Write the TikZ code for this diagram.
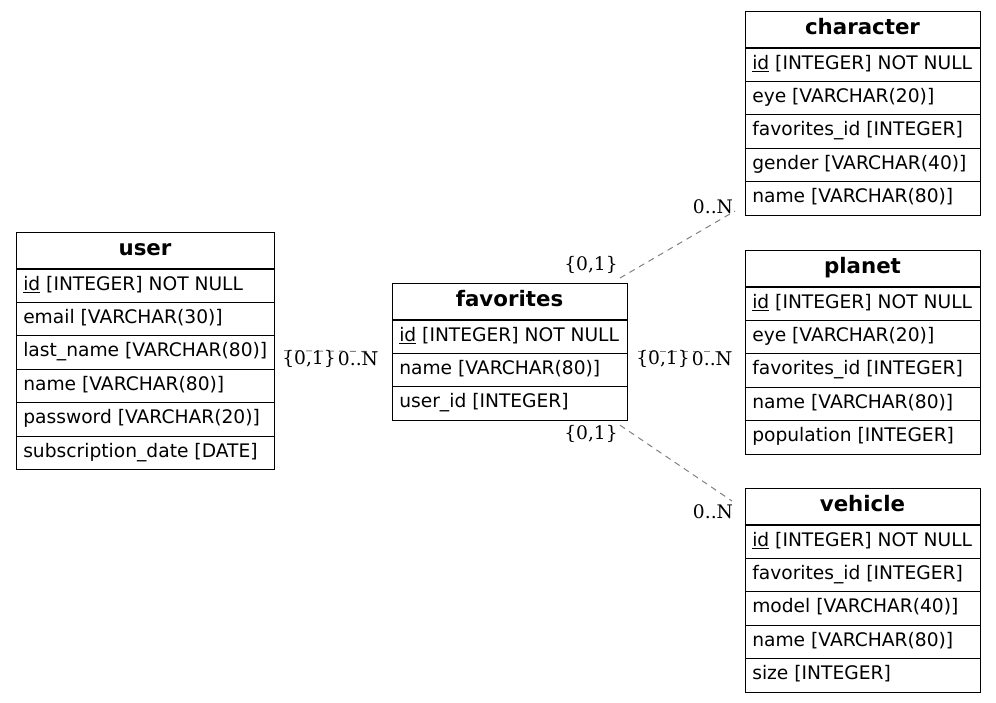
\documentclass[tikz,border=0pt]{standalone}
\usepackage{fontspec}
\setmainfont{DejaVu Sans}
\newfontfamily\cardfont{DejaVu Serif}
\usetikzlibrary{calc}

\tikzset{
  entframe/.style={draw=black, line width=0.75pt, inner sep=0pt, outer sep=0pt},
  enthead/.style={font=\fontsize{16}{18}\selectfont\bfseries, inner sep=0pt, anchor=base},
  entrow/.style={font=\fontsize{14}{16}\selectfont, inner sep=0pt, anchor=base west},
  rowrule/.style={draw=black, line width=0.75pt},
  headrule/.style={draw=black, line width=1.1pt},
  reln/.style={draw=gray, line width=0.75pt, dash pattern=on 4.5pt off 3.75pt},
  card/.style={font=\cardfont\fontsize{14}{16}\selectfont, inner sep=0pt, anchor=center}
}

% primary key column name
\newcommand{\pkey}[1]{\underline{#1}}

% entity table: #1 name, #2 left, #3 top, #4 width, #5 number of rows, #6 title, #7 rows
\newcommand{\erentity}[7]{%
  \node[entframe, anchor=north west, minimum width=#4*0.75pt,
        minimum height={(37+33.4*#5)*0.75pt}] (#1) at (#2,#3) {};
  \node[enthead] (#1-head) at ($(#1.north west)+(#4/2,23)$) {#6};
  \draw[headrule] ($(#1.north west)+(0,37)$) -- ++(#4,0);
  \foreach \txt [count=\i] in {#7} {
    \node[entrow] (#1-r\i) at ($(#1.north west)+(7,24.6+33.4*\i)$) {\txt};
    \ifnum\i<#5
      \draw[rowrule] ($(#1.north west)+(0,37+33.4*\i)$) -- ++(#4,0);
    \fi
  }%
}

\begin{document}
\begin{tikzpicture}[x=0.75pt, y=-0.75pt]
\useasboundingbox (0,0) rectangle (996,703);

\erentity{user}{16}{232}{258}{6}{user}{%
  {\pkey{id} [INTEGER] NOT NULL},
  {email [VARCHAR(30)]},
  {last\_name [VARCHAR(80)]},
  {name [VARCHAR(80)]},
  {password [VARCHAR(20)]},
  {subscription\_date [DATE]}}

\erentity{fav}{392}{283}{235}{3}{favorites}{%
  {\pkey{id} [INTEGER] NOT NULL},
  {name [VARCHAR(80)]},
  {user\_id [INTEGER]}}

\erentity{character}{745}{11}{235}{5}{character}{%
  {\pkey{id} [INTEGER] NOT NULL},
  {eye [VARCHAR(20)]},
  {favorites\_id [INTEGER]},
  {gender [VARCHAR(40)]},
  {name [VARCHAR(80)]}}

\erentity{planet}{745}{250}{235}{5}{planet}{%
  {\pkey{id} [INTEGER] NOT NULL},
  {eye [VARCHAR(20)]},
  {favorites\_id [INTEGER]},
  {name [VARCHAR(80)]},
  {population [INTEGER]}}

\erentity{vehicle}{745}{488}{235}{5}{vehicle}{%
  {\pkey{id} [INTEGER] NOT NULL},
  {favorites\_id [INTEGER]},
  {model [VARCHAR(40)]},
  {name [VARCHAR(80)]},
  {size [INTEGER]}}

% relationships
\draw[reln] ($(user.east)+(10,0)$) -- ($(fav.west)+(-10,0)$);
\draw[reln] ($(fav.east)+(11,0)$) -- ($(planet.west |- fav.east)+(-10,0)$);
\draw[reln] ($(fav.north east)+(-7,-5)$) -- ($(character.south west)+(-10,-4)$);
\draw[reln] ($(fav.south east)+(-7,5)$) -- ($(vehicle.north west)+(-13,13)$);

% cardinalities
\node[card] (uf-a) at (309,359) {\{0,1\}};
\node[card] (uf-b) at (358,359) {0..N};
\node[card] (fp-a) at (663,359) {\{0,1\}};
\node[card] (fp-b) at (712,359) {0..N};
\node[card] (fc-a) at (591,265) {\{0,1\}};
\node[card] (fc-b) at (713,207) {0..N};
\node[card] (fv-a) at (591,434) {\{0,1\}};
\node[card] (fv-b) at (713,512) {0..N};
\end{tikzpicture}
\end{document}
